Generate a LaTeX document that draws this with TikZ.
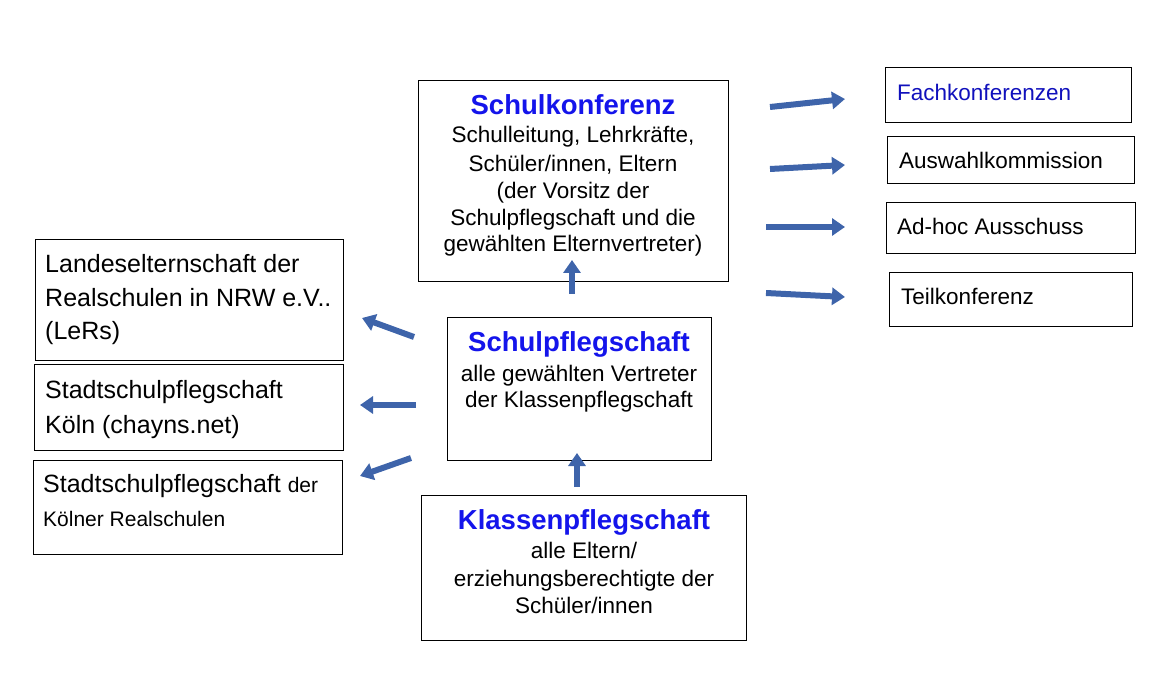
\documentclass[tikz,border=0pt]{standalone}
\usepackage{fontspec}
\setmainfont{Liberation Sans}
\usetikzlibrary{arrows.meta}
\definecolor{ttl}{RGB}{20,20,235}
\definecolor{arr}{RGB}{62,100,170}
\begin{document}
\begin{tikzpicture}[x=1pt,y=-1pt,
  box/.style={draw,line width=1pt},
  every node/.style={text height=0.72em,text depth=0.22em,inner sep=0pt,yshift=-6pt},
  t/.style={font=\fontsize{22.5}{26}\selectfont,anchor=center},
  ttl/.style={font=\fontsize{27.5}{30}\selectfont\bfseries,text=ttl,anchor=center},
  lt/.style={font=\fontsize{25}{28}\selectfont,anchor=west},
  ba/.style={draw=arr,line width=6pt,-{Triangle[width=17pt,length=13pt]},fill=arr}]
\useasboundingbox (0,0) rectangle (1170,676);
\draw[box] (418,81) rectangle (728,282);
\node[ttl] (sk) at (573,106) {Schulkonferenz};
\node[t] at (573,134) {Schulleitung, Lehrkräfte,};
\node[t] at (573,163) {Schüler/innen, Eltern};
\node[t] at (573,190) {(der Vorsitz der};
\node[t] at (573,217) {Schulpflegschaft und die};
\node[t] at (573,243) {gewählten Elternvertreter)};
\draw[box] (885,68) rectangle (1131,123);
\node[t,anchor=west,text=ttl!80!black] (fk) at (897,92) {Fachkonferenzen};
\draw[box] (887,137) rectangle (1134,184);
\node[t,anchor=west] (ak) at (899,160) {Auswahlkommission};
\draw[box] (886,203) rectangle (1135,254);
\node[t,anchor=west] (ah) at (897,226) {Ad-hoc Ausschuss};
\draw[box] (889,273) rectangle (1132,327);
\node[t,anchor=west] (tk) at (901,296) {Teilkonferenz};
\draw[box] (35,240) rectangle (343,360);
\node[lt] (le) at (45,264) {Landeselternschaft der};
\node[lt] at (45,298) {Realschulen in NRW e.V..};
\node[lt] at (45,331) {(LeRs)};
\draw[box] (34,364) rectangle (343,450);
\node[lt] (sk1) at (45,390) {Stadtschulpflegschaft};
\node[lt] at (45,425) {Köln (chayns.net)};
\draw[box] (33,460) rectangle (342,554);
\node[lt] (sk2) at (43,484) {Stadtschulpflegschaft {\fontsize{21}{24}\selectfont der}};
\node[t,anchor=west,font=\fontsize{21}{24}\selectfont] at (43,518) {Kölner Realschulen};
\draw[box] (447,318) rectangle (711,460);
\node[ttl] (sp) at (579,343) {Schulpflegschaft};
\node[t] at (579,373) {alle gewählten Vertreter};
\node[t] at (579,399) {der Klassenpflegschaft};
\draw[box] (421,495) rectangle (746,640);
\node[ttl] (kp) at (584,521) {Klassenpflegschaft};
\node[t] at (584,550) {alle Eltern/};
\node[t] at (584,578) {erziehungsberechtigte der};
\node[t] at (584,605) {Schüler/innen};
\foreach \n/\a/\b in {r1/{770,101}/{845,93},r2/{770,163}/{845,159},r3/{766,221}/{845,221},r4/{766,287}/{845,291},
  u1/{572,288}/{572,254},u2/{577,481}/{577,447},l1/{414,331}/{362,312},l2/{416,399}/{360,399},l3/{411,452}/{360,470}}{
  \coordinate (\n s) at (\a); \coordinate (\n e) at (\b);
  \draw[ba] (\n s) -- (\n e);}
\end{tikzpicture}
\end{document}
